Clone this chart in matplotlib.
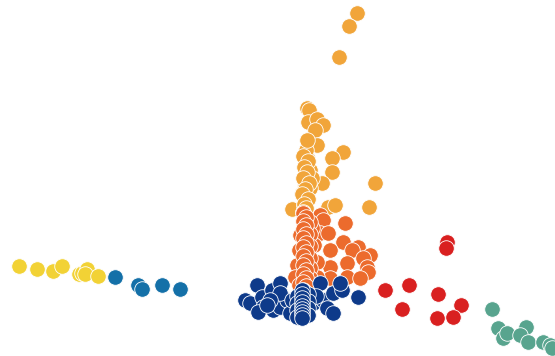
import matplotlib
matplotlib.use("Agg")
import matplotlib.pyplot as plt

# Cluster coordinates (embedding space, y grows downward)
yellow_x = [19, 37, 53, 62, 79, 82, 87, 85, 98]
yellow_y = [266, 269, 271, 266, 274, 273, 269, 274, 276]

blue_x = [115, 138, 142, 162, 180]
blue_y = [277, 285, 289, 285, 289]

amber_x = [357, 349, 339, 307, 309, 308, 317, 323, 315, 317, 343, 332, 307, 305, 310,
           332, 322, 305, 302, 307, 375, 369, 292, 328, 335, 304, 303, 310, 312,
           306, 303, 308, 304, 307, 303, 309, 305, 302, 308, 304, 306, 303, 307]
amber_y = [13, 26, 57, 108, 110, 122, 119, 125, 130, 145, 152, 158, 157, 165, 170,
           172, 183, 185, 193, 198, 183, 207, 209, 207, 205, 205, 212, 188, 178,
           150, 156, 161, 167, 172, 178, 183, 189, 194, 199, 204, 208, 212, 140]

orange_x = [320, 323, 345, 320, 328, 343, 358, 352, 370, 363, 330, 330, 347, 367, 368, 347,
            330, 360, 299, 297, 295, 317, 317, 313, 300, 299, 312, 314,
            310, 310, 310, 310, 310, 310, 310,
            303, 306, 303, 306, 303, 306, 303, 306, 303, 306, 303, 306, 303, 306,
            303, 306, 303, 306, 303, 306]
orange_y = [215, 220, 223, 233, 233, 242, 247, 250, 255, 258, 250, 267, 263, 267, 272, 277,
            278, 278, 250, 265, 277, 262, 277, 287, 235, 285, 228, 245,
            222, 234, 246, 258, 268, 278, 287,
            213, 217, 221, 225, 229, 234, 238, 243, 247, 252, 256, 261, 265, 270,
            274, 278, 282, 286, 290, 293]

navy_x = [257, 245, 250, 262, 272, 280, 263, 273, 280, 287, 313, 323, 327, 333, 333,
          342, 358, 340, 320, 280, 270, 258, 267, 290, 316, 292,
          297, 297, 297, 297, 308, 308, 308, 308,
          302, 302, 302, 302, 302, 302, 302, 302, 302]
navy_y = [285, 300, 303, 297, 290, 283, 307, 310, 307, 300, 303, 300, 308, 313, 293,
          290, 297, 283, 283, 293, 300, 312, 305, 313, 296, 300,
          296, 303, 310, 317, 294, 301, 308, 315,
          290, 294, 298, 302, 306, 309, 312, 315, 318]

red_x = [447, 446, 385, 409, 402, 438, 461, 437, 453]
red_y = [242, 248, 290, 285, 309, 294, 305, 318, 317]

teal_x = [492, 498, 503, 507, 526, 520, 528, 543, 550, 552]
teal_y = [309, 328, 338, 333, 327, 335, 342, 342, 345, 348]

groups = [
    (yellow_x, yellow_y, "#F2D235"),
    (blue_x, blue_y, "#1470A8"),
    (amber_x, amber_y, "#F1A53A"),
    (orange_x, orange_y, "#EC6B2D"),
    (navy_x, navy_y, "#0E3A8A"),
    (red_x, red_y, "#D92020"),
    (teal_x, teal_y, "#58A48E"),
]

fig = plt.figure(figsize=(5.55, 3.56), dpi=100)
ax = fig.add_axes([0, 0, 1, 1])
for i, (gx, gy, col) in enumerate(groups):
    ax.scatter(gx, gy, s=125, c=col, edgecolors="white", linewidths=0.6, zorder=2 + i)
ax.set_xlim(0, 555)
ax.set_ylim(356, 0)
ax.axis("off")
fig.savefig("out.png", dpi=100, facecolor="white")
